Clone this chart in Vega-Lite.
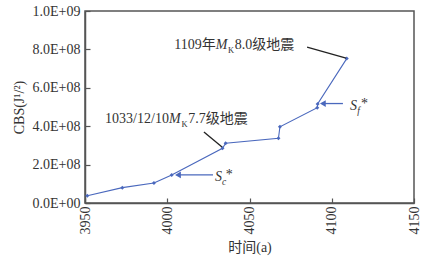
{
  "$schema": "https://vega.github.io/schema/vega-lite/v6.json",
  "width": 329,
  "height": 192,
  "autosize": "none",
  "padding": {"left": 85, "top": 11, "right": 22, "bottom": 59},
  "background": "white",
  "config": {
    "view": {"stroke": "#555555", "strokeWidth": 1.5},
    "font": "Liberation Serif, Noto Sans CJK SC",
    "axis": {"labelFont": "Liberation Serif", "titleFont": "Liberation Serif, Noto Sans CJK SC", "labelOverlap": false},
    "text": {"font": "Liberation Serif, Noto Sans CJK SC"}
  },
  "datasets": {
    "series": [
      {"year": 3951.4, "cbs": 38000000},
      {"year": 3972.7, "cbs": 80000000},
      {"year": 3991.9, "cbs": 104000000},
      {"year": 4002.7, "cbs": 146000000},
      {"year": 4033.6, "cbs": 285000000},
      {"year": 4035.5, "cbs": 311000000},
      {"year": 4067.6, "cbs": 337000000},
      {"year": 4068.5, "cbs": 397000000},
      {"year": 4091.2, "cbs": 496000000},
      {"year": 4091.4, "cbs": 516000000},
      {"year": 4109.1, "cbs": 752000000}
    ],
    "leaders": [
      {"x1": 4085.0, "y1": 812000000, "x2": 4108.7, "y2": 755000000},
      {"x1": 4022.3, "y1": 370000000, "x2": 4033.3, "y2": 292000000}
    ],
    "arrows": [
      {"x1": 4027.8, "x2": 4007.5, "y": 146000000},
      {"x1": 4106.8, "x2": 4095.5, "y": 518000000}
    ],
    "heads": [
      {"x": 4006.5, "y": 146000000},
      {"x": 4094.6, "y": 518000000}
    ],
    "prefix": [
      {"x": 4029.5, "y": 802000000, "t": "1109年"},
      {"x": 4001.0, "y": 417000000, "t": "1033/12/10"}
    ],
    "normal": [
      {"x": 4041.0, "y": 802000000, "t": "8.0级地震"},
      {"x": 4012.8, "y": 417000000, "t": "7.7级地震"},
      {"x": 4035.5, "y": 125000000, "t": "*"},
      {"x": 4117.8, "y": 497000000, "t": "*"}
    ],
    "italic": [
      {"x": 4029.5, "y": 802000000, "t": "M"},
      {"x": 4001.0, "y": 417000000, "t": "M"},
      {"x": 4029.0, "y": 114000000, "t": "S"},
      {"x": 4111.1, "y": 484000000, "t": "S"}
    ],
    "sub": [
      {"x": 4037.0, "y": 781000000, "t": "K"},
      {"x": 4008.6, "y": 396000000, "t": "K"}
    ],
    "subit": [
      {"x": 4033.3, "y": 94000000, "t": "c"},
      {"x": 4115.5, "y": 464000000, "t": "f"}
    ]
  },
  "layer": [
    {
      "data": {"name": "series"},
      "mark": {"type": "line", "color": "#4a68bd", "strokeWidth": 1.1},
      "encoding": {
        "x": {
          "field": "year", "type": "quantitative",
          "scale": {"domain": [3950, 4150], "nice": false},
          "axis": {
            "values": [3950, 4000, 4050, 4100, 4150],
            "tickCount": 10,
            "format": "d",
            "title": "时间(a)",
            "titleFontSize": 14, "titleFontWeight": "normal", "titleColor": "#333",
            "titlePadding": 6,
            "labelAngle": -90, "labelFontSize": 14, "labelColor": "#333",
            "labelPadding": 8, "labelAlign": "right", "labelBaseline": "middle",
            "labelOverlap": false,
            "tickSize": -5, "tickColor": "#555", "tickWidth": 1.2,
            "domainColor": "#555", "domainWidth": 1.5,
            "grid": false
          }
        },
        "y": {
          "field": "cbs", "type": "quantitative",
          "scale": {"domain": [0, 1000000000], "nice": false},
          "axis": {
            "values": [0, 200000000, 400000000, 600000000, 800000000, 1000000000],
            "tickCount": 10,
            "labelExpr": "replace(upper(format(datum.value, '.1e')), 'E+', 'E+0')",
            "labelOverlap": false,
            "title": "CBS(J¹/²)",
            "titleFontSize": 14, "titleFontWeight": "normal", "titleColor": "#333",
            "titlePadding": 6,
            "labelFontSize": 14, "labelColor": "#333", "labelPadding": 10,
            "tickSize": -5, "tickColor": "#555", "tickWidth": 1.2,
            "domainColor": "#555", "domainWidth": 1.5,
            "grid": false
          }
        }
      }
    },
    {
      "data": {"name": "series"},
      "mark": {"type": "point", "filled": true, "shape": "diamond", "color": "#4a68bd", "size": 16, "opacity": 1},
      "encoding": {
        "x": {"field": "year", "type": "quantitative"},
        "y": {"field": "cbs", "type": "quantitative"}
      }
    },
    {
      "data": {"name": "leaders"},
      "mark": {"type": "rule", "color": "#222", "strokeWidth": 1.3},
      "encoding": {
        "x": {"field": "x1", "type": "quantitative"},
        "y": {"field": "y1", "type": "quantitative"},
        "x2": {"field": "x2"},
        "y2": {"field": "y2"}
      }
    },
    {
      "data": {"name": "arrows"},
      "mark": {"type": "rule", "color": "#4a68bd", "strokeWidth": 1.3},
      "encoding": {
        "x": {"field": "x1", "type": "quantitative"},
        "x2": {"field": "x2"},
        "y": {"field": "y", "type": "quantitative"}
      }
    },
    {
      "data": {"name": "heads"},
      "mark": {"type": "point", "filled": true, "shape": "triangle-left", "color": "#4a68bd", "size": 45, "opacity": 1},
      "encoding": {
        "x": {"field": "x", "type": "quantitative"},
        "y": {"field": "y", "type": "quantitative"}
      }
    },
    {
      "data": {"name": "prefix"},
      "mark": {"type": "text", "align": "right", "baseline": "alphabetic", "fontSize": 14, "color": "#333"},
      "encoding": {
        "x": {"field": "x", "type": "quantitative"},
        "y": {"field": "y", "type": "quantitative"},
        "text": {"field": "t"}
      }
    },
    {
      "data": {"name": "normal"},
      "mark": {"type": "text", "align": "left", "baseline": "alphabetic", "fontSize": 14, "color": "#333"},
      "encoding": {
        "x": {"field": "x", "type": "quantitative"},
        "y": {"field": "y", "type": "quantitative"},
        "text": {"field": "t"}
      }
    },
    {
      "data": {"name": "italic"},
      "mark": {"type": "text", "align": "left", "baseline": "alphabetic", "fontSize": 14, "fontStyle": "italic", "color": "#333"},
      "encoding": {
        "x": {"field": "x", "type": "quantitative"},
        "y": {"field": "y", "type": "quantitative"},
        "text": {"field": "t"}
      }
    },
    {
      "data": {"name": "sub"},
      "mark": {"type": "text", "align": "left", "baseline": "alphabetic", "fontSize": 8.5, "color": "#333"},
      "encoding": {
        "x": {"field": "x", "type": "quantitative"},
        "y": {"field": "y", "type": "quantitative"},
        "text": {"field": "t"}
      }
    },
    {
      "data": {"name": "subit"},
      "mark": {"type": "text", "align": "left", "baseline": "alphabetic", "fontSize": 9.5, "fontStyle": "italic", "color": "#333"},
      "encoding": {
        "x": {"field": "x", "type": "quantitative"},
        "y": {"field": "y", "type": "quantitative"},
        "text": {"field": "t"}
      }
    }
  ]
}
